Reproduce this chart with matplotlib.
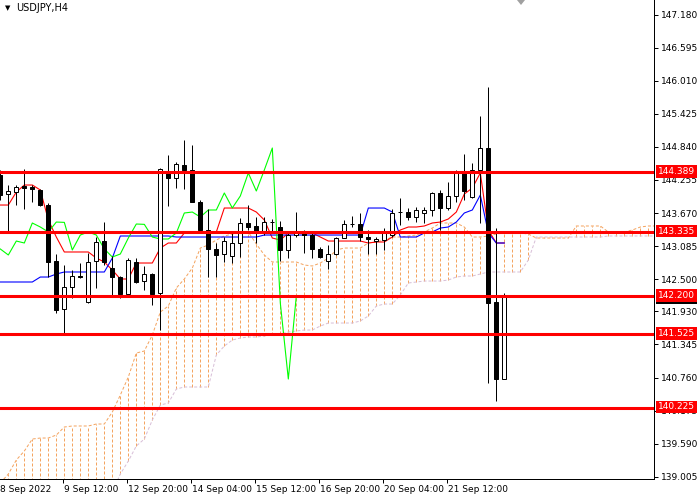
import matplotlib
matplotlib.use('Agg')
import matplotlib.pyplot as plt
import numpy as np
from matplotlib.patches import Rectangle, Polygon

# ---- data (USDJPY H4) ----
opens = [144.343, 144.007, 144.042, 144.149, 144.131, 144.078, 143.812, 142.821, 141.972, 142.361,
         142.556, 142.096, 142.821, 143.175, 142.697, 142.538, 142.237, 142.804, 142.467, 142.591,
         142.255, 144.379, 144.290, 144.520, 144.432, 143.865, 143.370, 143.034, 142.945, 142.910,
         143.140, 143.494, 143.441, 143.335, 143.520, 143.423, 143.016, 143.281, 143.335, 143.281,
         143.034, 142.821, 142.945, 143.228, 143.476, 143.476, 143.246, 143.175, 143.193, 143.281,
         143.680, 143.688, 143.600, 143.671, 143.724, 144.025, 143.759, 143.972, 144.379, 143.954,
         144.432, 144.821, 142.096, 140.733]
highs = [144.432, 144.166, 144.166, 144.449, 144.166, 144.096, 143.848, 142.945, 142.751, 142.662,
         142.786, 142.963, 143.246, 143.511, 142.910, 142.556, 142.874, 142.874, 142.733, 142.609,
         144.467, 144.697, 144.573, 144.963, 144.874, 143.901, 143.742, 143.140, 143.246, 143.317,
         143.582, 143.812, 143.600, 143.600, 143.565, 143.529, 143.317, 143.688, 143.370, 143.317,
         143.069, 143.105, 143.246, 143.547, 143.618, 143.671, 143.370, 143.246, 143.405, 143.742,
         143.936, 143.759, 143.777, 143.777, 144.042, 144.078, 144.219, 144.432, 144.715, 144.556,
         145.387, 145.900, 143.405, 142.255]
lows = [143.901, 143.317, 143.812, 143.742, 143.865, 143.795, 142.538, 141.901, 141.512, 142.167,
        142.521, 142.078, 142.344, 142.751, 142.220, 142.167, 142.220, 142.432, 142.308, 142.043,
        141.600, 143.795, 144.113, 144.096, 143.865, 143.370, 142.538, 142.538, 142.804, 142.786,
        142.892, 143.370, 143.140, 143.281, 143.335, 142.821, 142.874, 143.246, 142.963, 142.874,
        142.874, 142.680, 142.928, 143.228, 143.423, 143.175, 142.945, 142.945, 143.016, 143.246,
        143.458, 143.547, 143.511, 143.494, 143.618, 143.370, 143.724, 143.865, 143.901, 143.936,
        143.494, 140.662, 140.344, 140.733]
closes = [143.989, 144.060, 144.131, 144.113, 144.096, 143.812, 142.804, 141.954, 142.361, 142.556,
          142.538, 142.804, 143.158, 142.804, 142.538, 142.237, 142.839, 142.450, 142.591, 142.237,
          144.449, 144.290, 144.538, 144.432, 143.865, 143.370, 143.034, 142.928, 143.175, 143.140,
          143.494, 143.423, 143.335, 143.511, 143.505, 143.016, 143.281, 143.335, 143.281, 143.034,
          142.892, 142.945, 143.228, 143.476, 143.470, 143.246, 143.211, 143.211, 143.317, 143.671,
          143.688, 143.600, 143.724, 143.724, 144.025, 143.759, 143.972, 144.379, 144.060, 144.432,
          144.821, 142.078, 140.733, 142.202]

tenkan = [143.812, 143.812, 144.042, 144.166, 144.166, 144.078, 143.547, 143.246, 142.981, 142.981,
          142.981, 142.981, 142.874, 142.804, 142.662, 142.503, 142.503, 142.786, 142.786, 142.786,
          143.051, 143.140, 143.140, 143.317, 143.335, 143.335, 143.335, 143.335, 143.759, 143.759,
          143.759, 143.759, 143.688, 143.547, 143.228, 143.193, 143.317, 143.317, 143.317, 143.317,
          143.246, 143.175, 143.175, 143.175, 143.175, 143.175, 143.140, 143.158, 143.158, 143.246,
          143.370, 143.423, 143.423, 143.441, 143.494, 143.511, 143.565, 143.688, 144.007, 144.113,
          144.379, 143.370, 143.140, 143.140]
kijun = [142.450, 142.450, 142.450, 142.450, 142.450, 142.538, 142.538, 142.591, 142.627, 142.627,
         142.627, 142.627, 142.627, 142.627, 142.874, 143.264, 143.264, 143.264, 143.264, 143.264,
         143.264, 143.264, 143.246, 143.246, 143.246, 143.246, 143.246, 143.246, 143.246, 143.246,
         143.246, 143.246, 143.246, 143.281, 143.281, 143.281, 143.281, 143.281, 143.281, 143.281,
         143.281, 143.281, 143.281, 143.281, 143.281, 143.281, 143.759, 143.759, 143.759, 143.688,
         143.246, 143.246, 143.246, 143.317, 143.335, 143.405, 143.423, 143.511, 143.671, 143.724,
         143.989, 143.317, 143.140, 143.140]
span_a = [138.893, 139.052, 139.300, 139.459, 139.671, 139.689, 139.689, 139.742, 139.884, 139.902,
          139.902, 139.902, 139.937, 139.937, 140.149, 140.450, 140.769, 141.193, 141.229, 141.512,
          141.919, 142.025, 142.344, 142.503, 142.697, 143.051, 143.105, 143.193, 143.264, 143.299,
          143.317, 143.335, 143.122, 142.928, 142.804, 142.804, 142.804, 142.804, 142.751, 142.733,
          142.786, 142.874, 143.016, 143.051, 143.051, 143.051, 143.140, 143.158, 143.193, 143.246,
          143.246, 143.264, 143.281, 143.335, 143.405, 143.494, 143.494, 143.494, 143.423, 143.246,
          143.246, 143.264, 143.299, 143.317, 143.317, 143.317, 143.299, 143.228, 143.228, 143.228,
          143.228, 143.228, 143.441, 143.441, 143.441, 143.441, 143.335, 143.317, 143.335, 143.370,
          143.423, 143.441, 143.441]
span_b = [138.200, 138.200, 138.250, 138.250, 138.300, 138.300, 138.350, 138.400, 138.400, 138.450,
          138.500, 138.550, 138.600, 138.700, 138.734, 139.052, 139.282, 139.548, 139.671, 140.008,
          140.273, 140.308, 140.556, 140.592, 140.592, 140.592, 140.592, 141.158, 141.317, 141.423,
          141.459, 141.476, 141.476, 141.494, 141.512, 141.530, 141.565, 141.583, 141.600, 141.600,
          141.671, 141.724, 141.724, 141.724, 141.724, 141.760, 141.848, 142.025, 142.060, 142.060,
          142.220, 142.432, 142.450, 142.467, 142.467, 142.467, 142.485, 142.538, 142.556, 142.556,
          142.591, 142.627, 142.627, 142.627, 142.627, 142.627, 142.839, 143.246, 143.246, 143.246,
          143.246, 143.246, 143.246, 143.246, 143.246, 143.246, 143.264, 143.264, 143.264, 143.264,
          143.264, 143.264, 143.264]
chikou_shift = 26

levels = [144.389, 143.335, 142.200, 141.525, 140.225]
price_ticks = [147.180, 146.595, 146.010, 145.425, 144.840, 144.255, 143.670, 143.085,
               142.500, 141.930, 141.345, 140.760, 140.175, 139.590, 139.005]
time_labels = ['8 Sep 2022', '9 Sep 12:00', '12 Sep 20:00', '14 Sep 04:00',
               '15 Sep 12:00', '16 Sep 20:00', '20 Sep 04:00', '21 Sep 12:00']
time_label_bars = [0, 8, 16, 24, 32, 40, 48, 56]
title = 'USDJPY,H4'

# ---- figure ----
W, H = 700, 500
fig = plt.figure(figsize=(7, 5), dpi=100)
fig.patch.set_facecolor('white')
ax = fig.add_axes([0, 21 / H, 654 / W, 479 / H])
ax.set_facecolor('white')
ax.set_xlim(-0.04, 81.71)
ax.set_ylim(138.964, 147.440)

PX = 0.72  # one pixel in points
n = len(closes)
x = np.arange(n)
xc = np.arange(len(span_a))

# Kumo hatching
a = np.array(span_a)
b = np.array(span_b)
cols = ['#F4A460' if ai >= bi else '#D8BFD8' for ai, bi in zip(a, b)]
ax.vlines(xc, np.minimum(a, b), np.maximum(a, b), colors=cols,
          linestyles=(0, (3, 2)), linewidth=PX, zorder=1)
ax.plot(xc, a, color='#F4A460', ls=(0, (3, 2)), lw=PX, zorder=1.2)
ax.plot(xc, b, color='#D8BFD8', ls=(0, (3, 2)), lw=PX, zorder=1.1)

# Tenkan / Kijun / Chikou
ax.plot(x, tenkan, color='red', lw=0.8, zorder=2)
ax.plot(x, kijun, color='blue', lw=0.8, zorder=2.1)
ax.plot(x[:n - chikou_shift], closes[chikou_shift:], color='#00FF00', lw=0.8, zorder=2.2)

# candles
ax.vlines(x, lows, highs, colors='black', linewidth=PX, zorder=3)
bw = 0.5
for i in range(n):
    o, c = opens[i], closes[i]
    lo, hi = min(o, c), max(o, c)
    h = max(hi - lo, 0.004)
    fc = 'white' if c >= o else 'black'
    ax.add_patch(Rectangle((i - bw / 2, lo), bw, h, facecolor=fc,
                           edgecolor='black', linewidth=PX, zorder=4))

# bid line and levels
ax.axhline(closes[-1], color='#C0C0C0', lw=PX, zorder=9)
for lv in levels:
    ax.axhline(lv, color='red', lw=2.2, zorder=10)

# axes styling
for s in ('left', 'top'):
    ax.spines[s].set_visible(False)
for s in ('right', 'bottom'):
    ax.spines[s].set_color('black')
    ax.spines[s].set_linewidth(PX)
ax.yaxis.tick_right()
ax.set_yticks(price_ticks)
ax.set_yticklabels([f'{p:.3f}' for p in price_ticks])
ax.tick_params(axis='y', length=3, width=PX, pad=2, labelsize=6.5, colors='black')
ax.set_xticks([bb - 0.2 for bb in time_label_bars if bb > 0])
ax.set_xticklabels([])
ax.tick_params(axis='x', length=3, width=PX)
for bb, lab in zip(time_label_bars, time_labels):
    ax.text(bb - 0.08, -10 / 479, lab, transform=ax.get_xaxis_transform(),
            ha='left', va='center', fontsize=6.5, color='black', clip_on=False)

# current price (black) marker and level labels
ytr = ax.get_yaxis_transform()
ax.text(1 + 4 / 654, closes[-1] - 0.03, f'{closes[-1]:.3f}', transform=ytr, color='white',
        fontsize=6.5, ha='left', va='center', clip_on=False, zorder=19,
        bbox=dict(boxstyle='square,pad=0.2', fc='black', ec='none'))
for lv in levels:
    ax.text(1 + 4 / 654, lv + 0.015, f'{lv:.3f}', transform=ytr, color='white',
            fontsize=6.5, ha='left', va='center', clip_on=False, zorder=20,
            bbox=dict(boxstyle='square,pad=0.2', fc='#FF0000', ec='none'))

# title
fig.text(5 / W, 1 - 8 / H, '\u25BC', fontsize=5, ha='left', va='center', color='black')
fig.text(16 / W, 1 - 8 / H, title, fontsize=7, ha='left', va='center', color='black')

# small gray triangle at top
tri = Polygon([(517 / W, 1.0), (525 / W, 1.0), (521 / W, 1 - 5 / H)], closed=True,
              transform=fig.transFigure, facecolor='#A0A0A0', edgecolor='none')
fig.patches.append(tri)

fig.savefig('out.png', dpi=100, facecolor='white')
